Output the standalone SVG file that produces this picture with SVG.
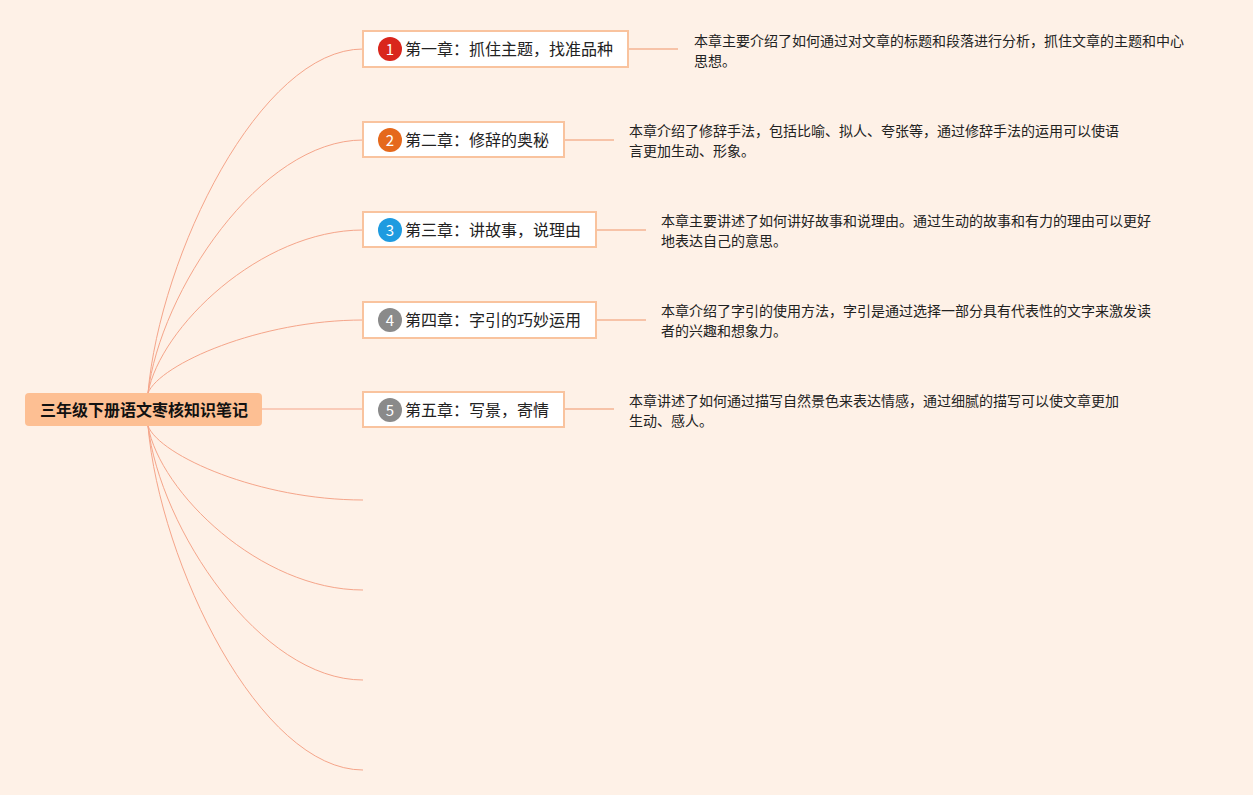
<svg xmlns="http://www.w3.org/2000/svg" width="1253" height="795" viewBox="0 0 1253 795">
<style>
text{font-family:"Noto Sans CJK SC","Noto Sans",sans-serif;}
.curve{fill:none;stroke:#f5a58a;stroke-width:1;}
.link{fill:none;stroke:#f7c3a8;stroke-width:2;}
.box{fill:#ffffff;stroke:#f9c39e;stroke-width:2;}
.label{font-size:16px;fill:#222;}
.num{font-size:15px;fill:#fff;text-anchor:middle;}
.desc{font-size:14px;fill:#222;}
</style>
<rect x="0" y="0" width="1253" height="795" fill="#fef1e7"/>
<g id="connectors">
<path class="curve" d="M148,393 C160,255 260,49 363,49"/>
<path class="curve" d="M148,393 C160,292 260,140 363,140"/>
<path class="curve" d="M148,393 C160,328 260,230 363,230"/>
<path class="curve" d="M148,393 C160,364 260,320 363,320"/>
<path class="curve" d="M262,409 L363,409"/>
<path class="curve" d="M148,426 C160,456 260,500 363,500"/>
<path class="curve" d="M148,426 C160,492 260,590 363,590"/>
<path class="curve" d="M148,426 C160,528 260,680 363,680"/>
<path class="curve" d="M148,426 C160,564 260,770 363,770"/>
<path class="link" d="M628,49 L678,49"/>
<path class="link" d="M564,140 L614,140"/>
<path class="link" d="M596,230 L646,230"/>
<path class="link" d="M596,320 L646,320"/>
<path class="link" d="M564,409 L614,409"/>
</g>
<g id="root">
<rect x="25" y="393" width="237" height="33" rx="4" fill="#fdbf93"/>
<text x="144" y="415.5" text-anchor="middle" font-size="16" font-weight="bold" fill="#111">三年级下册语文枣核知识笔记</text>
</g>
<g id="node1">
<rect class="box" x="363" y="31" width="265" height="36"/>
<circle cx="390" cy="49" r="12" fill="#d9261c"/>
<text class="num" x="390" y="54.5">1</text>
<text class="label" x="405" y="55">第一章：抓住主题，找准品种</text>
</g>
<g id="node2">
<rect class="box" x="363" y="122" width="201" height="35"/>
<circle cx="390" cy="140" r="12" fill="#e5691c"/>
<text class="num" x="390" y="145.5">2</text>
<text class="label" x="405" y="146">第二章：修辞的奥秘</text>
</g>
<g id="node3">
<rect class="box" x="363" y="212" width="233" height="35"/>
<circle cx="390" cy="230" r="12" fill="#1e9be0"/>
<text class="num" x="390" y="235.5">3</text>
<text class="label" x="405" y="236">第三章：讲故事，说理由</text>
</g>
<g id="node4">
<rect class="box" x="363" y="302" width="233" height="36"/>
<circle cx="390" cy="320" r="12" fill="#8a8a8a"/>
<text class="num" x="390" y="325.5">4</text>
<text class="label" x="405" y="326">第四章：字引的巧妙运用</text>
</g>
<g id="node5">
<rect class="box" x="363" y="392" width="201" height="35"/>
<circle cx="390" cy="410" r="12" fill="#8a8a8a"/>
<text class="num" x="390" y="415.5">5</text>
<text class="label" x="405" y="416">第五章：写景，寄情</text>
</g>
<g id="desc1">
<text class="desc" x="694" y="46">本章主要介绍了如何通过对文章的标题和段落进行分析，抓住文章的主题和中心</text>
<text class="desc" x="694" y="66">思想。</text>
</g>
<g id="desc2">
<text class="desc" x="629" y="135.5">本章介绍了修辞手法，包括比喻、拟人、夸张等，通过修辞手法的运用可以使语</text>
<text class="desc" x="629" y="156">言更加生动、形象。</text>
</g>
<g id="desc3">
<text class="desc" x="661" y="225.5">本章主要讲述了如何讲好故事和说理由。通过生动的故事和有力的理由可以更好</text>
<text class="desc" x="661" y="246">地表达自己的意思。</text>
</g>
<g id="desc4">
<text class="desc" x="661" y="315.5">本章介绍了字引的使用方法，字引是通过选择一部分具有代表性的文字来激发读</text>
<text class="desc" x="661" y="336">者的兴趣和想象力。</text>
</g>
<g id="desc5">
<text class="desc" x="629" y="405.5">本章讲述了如何通过描写自然景色来表达情感，通过细腻的描写可以使文章更加</text>
<text class="desc" x="629" y="426">生动、感人。</text>
</g>
</svg>
